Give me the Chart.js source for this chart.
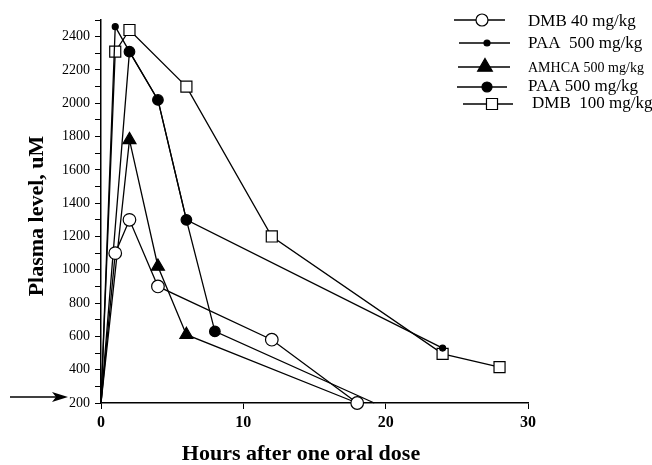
<!DOCTYPE html>
<html>
<head>
<meta charset="utf-8">
<script src="https://cdn.jsdelivr.net/npm/chart.js"></script>
<style>
  body { margin: 0; background: #fff; }
  canvas { display: block; }
</style>
</head>
<body>
<canvas id="chart" width="652" height="465"></canvas>
<script>
// data
const dmb40Hours = [0, 1, 2, 4, 12, 18];
const dmb40Level = [200, 1100, 1300, 900, 580, 200];
const paaSmallHours = [0, 1, 2, 4, 6, 24];
const paaSmallLevel = [200, 2460, 2310, 2020, 1300, 530];
const amhcaHours = [0, 2, 4, 6, 18];
const amhcaLevel = [200, 1780, 1020, 610, 200];
const paaBigHours = [0, 2, 4, 6, 8, 19.2];
const paaBigLevel = [200, 2310, 2020, 1300, 630, 200];
const dmb100Hours = [0, 1, 2, 6, 12, 24, 28];
const dmb100Level = [200, 2310, 2440, 2100, 1200, 495, 415];

const seriesLabels = ['DMB 40 mg/kg', 'PAA  500 mg/kg', 'AMHCA 500 mg/kg', 'PAA 500 mg/kg', 'DMB  100 mg/kg'];
const xTickLabels = [0, 10, 20, 30];
const yTickLabels = [200, 400, 600, 800, 1000, 1200, 1400, 1600, 1800, 2000, 2200, 2400];
const xTitle = 'Hours after one oral dose';
const yTitle = 'Plasma level, uM';

const SERIF = '"Liberation Serif", "Times New Roman", serif';

function pts(xs, ys) {
  return xs.map((x, i) => ({ x: x, y: ys[i] }));
}

// markers are hidden at the baseline, except where the figure shows one
function radius(r, keepEnd) {
  return c => {
    if (c.raw && c.raw.y === 200 && !(keepEnd && c.dataIndex > 0)) return 0;
    return r;
  };
}

function series(label, data, style, r, fill, keepEnd) {
  return {
    label: label,
    data: data,
    borderColor: '#000',
    borderWidth: 1.3,
    pointStyle: style,
    pointRadius: radius(r, keepEnd),
    pointHoverRadius: radius(r, keepEnd),
    pointBackgroundColor: fill,
    pointBorderColor: '#000',
    pointBorderWidth: 1.2,
    tension: 0,
    clip: false
  };
}

// legend drawn by hand: line, marker, text
const legendLayout = [
  { x0: 454, x1: 505, mx: 482, y: 20, tx: 528, ty: 22, size: 17 },
  { x0: 459, x1: 510, mx: 487, y: 43, tx: 528, ty: 44, size: 17 },
  { x0: 458, x1: 510, mx: 485, y: 67, tx: 528, ty: 68, size: 14 },
  { x0: 457, x1: 507, mx: 487, y: 87, tx: 528, ty: 87, size: 17 },
  { x0: 463, x1: 513, mx: 492, y: 104, tx: 532, ty: 104, size: 17 }
];
const legendRadius = [6, 3, 8.5, 5, 7.8];

function marker(ctx, style, x, y, r, fill) {
  ctx.beginPath();
  if (style === 'rect') {
    const s = Math.SQRT1_2 * r;
    ctx.rect(x - s, y - s, 2 * s, 2 * s);
  } else if (style === 'triangle') {
    ctx.moveTo(x, y - r);
    ctx.lineTo(x + r * 0.866, y + r / 2);
    ctx.lineTo(x - r * 0.866, y + r / 2);
    ctx.closePath();
  } else {
    ctx.arc(x, y, r, 0, Math.PI * 2);
  }
  ctx.fillStyle = fill;
  ctx.fill();
  ctx.lineWidth = 1.2;
  ctx.strokeStyle = '#000';
  ctx.stroke();
}

const decor = {
  id: 'decor',
  afterDraw(chart) {
    const ctx = chart.ctx;
    const y0 = chart.scales.y.getPixelForValue(200) - 6;
    ctx.save();

    // baseline arrow
    ctx.strokeStyle = '#000';
    ctx.fillStyle = '#000';
    ctx.lineWidth = 1.3;
    ctx.beginPath();
    ctx.moveTo(10, y0);
    ctx.lineTo(60, y0);
    ctx.stroke();
    ctx.beginPath();
    ctx.moveTo(68, y0);
    ctx.lineTo(52, y0 - 5);
    ctx.lineTo(56, y0);
    ctx.lineTo(52, y0 + 5);
    ctx.closePath();
    ctx.fill();

    // axis titles
    ctx.font = 'bold 22px ' + SERIF;
    ctx.textAlign = 'center';
    ctx.textBaseline = 'middle';
    ctx.fillText(xTitle, 301, 454);
    ctx.save();
    ctx.translate(37, 216);
    ctx.rotate(-Math.PI / 2);
    ctx.fillText(yTitle, 0, 0);
    ctx.restore();

    // legend
    chart.data.datasets.forEach((ds, i) => {
      const L = legendLayout[i];
      ctx.strokeStyle = '#000';
      ctx.lineWidth = 1.3;
      ctx.beginPath();
      ctx.moveTo(L.x0, L.y);
      ctx.lineTo(L.x1, L.y);
      ctx.stroke();
      marker(ctx, ds.pointStyle, L.mx, L.y, legendRadius[i], ds.pointBackgroundColor);
      ctx.fillStyle = '#000';
      ctx.font = L.size + 'px ' + SERIF;
      ctx.textAlign = 'left';
      ctx.textBaseline = 'middle';
      ctx.fillText(ds.label, L.tx, L.ty);
    });
    ctx.restore();
  }
};

new Chart(document.getElementById('chart'), {
  type: 'line',
  data: {
    datasets: [
      series(seriesLabels[0], pts(dmb40Hours, dmb40Level), 'circle', 6.3, '#fff', true),
      series(seriesLabels[1], pts(paaSmallHours, paaSmallLevel), 'circle', 3, '#000', false),
      series(seriesLabels[2], pts(amhcaHours, amhcaLevel), 'triangle', 7.5, '#000', false),
      series(seriesLabels[3], pts(paaBigHours, paaBigLevel), 'circle', 5.3, '#000', false),
      series(seriesLabels[4], pts(dmb100Hours, dmb100Level), 'rect', 7.8, '#fff', false)
    ]
  },
  options: {
    responsive: false,
    animation: false,
    events: [],
    layout: { padding: { top: 20, right: 124, left: 0, bottom: 0 } },
    plugins: { legend: { display: false }, tooltip: { enabled: false } },
    scales: {
      x: {
        type: 'linear',
        min: 0,
        max: 30,
        afterBuildTicks: s => { s.ticks = xTickLabels.map(v => ({ value: v })); },
        afterFit: s => { s.height = 62; },
        border: { color: '#000', width: 1.5 },
        grid: { drawOnChartArea: false, drawTicks: true, tickLength: 6, color: '#000', lineWidth: 1 },
        ticks: {
          color: '#000',
          padding: 4,
          maxRotation: 0,
          autoSkip: false,
          font: { family: SERIF, size: 16, weight: 'bold' }
        }
      },
      y: {
        type: 'linear',
        min: 200,
        max: 2500,
        afterFit: s => { s.width = 101; },
        border: { color: '#000', width: 1.5 },
        grid: { drawOnChartArea: false, drawTicks: true, tickLength: 6, color: '#000', lineWidth: 1 },
        ticks: {
          stepSize: 100,
          autoSkip: false,
          color: '#000',
          padding: 5,
          font: { family: SERIF, size: 14 },
          callback: v => yTickLabels.includes(v) ? String(v) : ''
        }
      }
    }
  },
  plugins: [decor]
});
</script>
</body>
</html>
